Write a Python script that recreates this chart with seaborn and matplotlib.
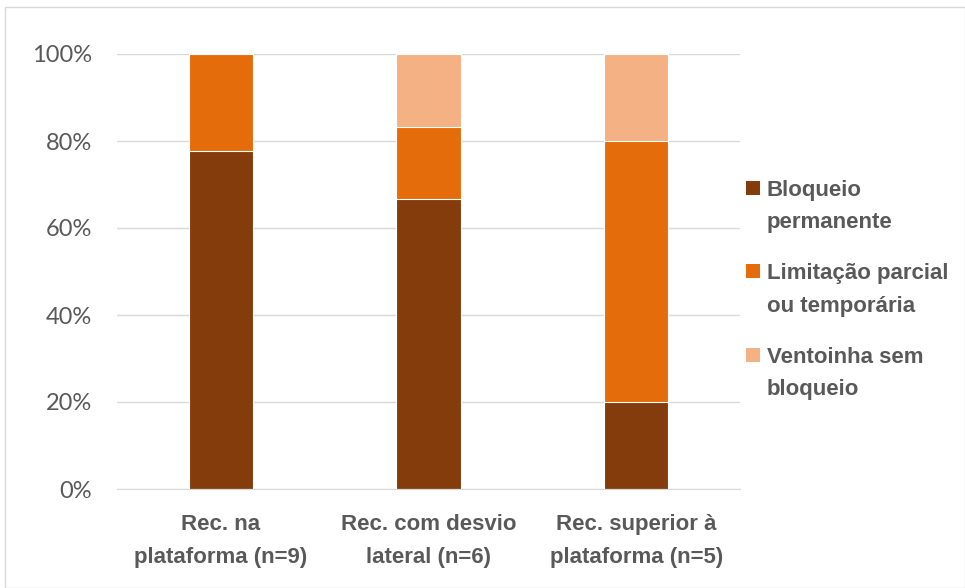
import numpy as np
import pandas as pd
import seaborn as sns
import matplotlib.pyplot as plt
from matplotlib.patches import Patch, Rectangle
from matplotlib.legend_handler import HandlerPatch

# Categories and shares (fraction of cases per group)
categories = ['Rec. na\nplataforma (n=9)', 'Rec. com desvio\nlateral (n=6)', 'Rec. superior à\nplataforma (n=5)']
series = ['Bloqueio\npermanente', 'Limitação parcial\nou temporária', 'Ventoinha sem\nbloqueio']
bloqueio = [7 / 9, 4 / 6, 1 / 5]
limitacao = [2 / 9, 1 / 6, 3 / 5]
ventoinha = [0.0, 1 / 6, 1 / 5]
colors = ['#843C0C', '#E46C0A', '#F4B183']

sns.set_style("white")
plt.rcParams['font.family'] = ['Lato', 'DejaVu Sans']
text_color = '#595959'
bold_font = ['Liberation Sans', 'DejaVu Sans']

df = pd.DataFrame({'cat': categories, 'b': bloqueio, 'l': limitacao, 'v': ventoinha})
df['c1'] = df['b']
df['c2'] = df['b'] + df['l']
df['c3'] = df['c2'] + df['v']

fig = plt.figure(figsize=(9.65, 5.88), dpi=100)
ax = fig.add_axes([117 / 965, 1 - 489 / 588, (740 - 117) / 965, (489 - 54) / 588])

# Draw stacked bars from top cumulative to bottom
for col, color in zip(['c3', 'c2', 'c1'], colors[::-1]):
    sns.barplot(data=df, x='cat', y=col, color=color, width=0.31, ax=ax,
                saturation=1, edgecolor='white', linewidth=0.8)

ax.set_ylim(0, 1)
ax.set_xlim(-0.5, 2.5)
ax.set_yticks(np.arange(0, 1.01, 0.2))
ax.set_yticklabels([f'{int(round(t * 100))}%' for t in np.arange(0, 1.01, 0.2)],
                   fontsize=17, color=text_color)
ax.set_xticklabels(categories, fontsize=16, fontweight='bold', color=text_color,
                   linespacing=1.72, family=bold_font)
ax.tick_params(axis='x', length=0, pad=18)
ax.tick_params(axis='y', length=0, pad=18)
ax.set_xlabel('')
ax.set_ylabel('')
ax.yaxis.grid(True, color='#D9D9D9', linewidth=1)
ax.set_axisbelow(True)
for s in ['top', 'right', 'left']:
    ax.spines[s].set_visible(False)
ax.spines['bottom'].set_color('#D9D9D9')


# legend square sits next to the first line of each two-line label
def top_square(legend, orig_handle, xdescent, ydescent, width, height, fontsize):
    sq = 0.63 * fontsize
    return Rectangle((-xdescent, -ydescent + height - sq + 0.3 * fontsize), sq, sq)


handles = [Patch(facecolor=c, edgecolor='none') for c in colors]
leg = fig.legend(handles, series, loc='center left', bbox_to_anchor=(746 / 965, 1 - 290 / 588),
                 frameon=False, prop={'family': bold_font, 'weight': 'bold', 'size': 16},
                 handlelength=0.63, handleheight=2.4, handletextpad=0.3, labelspacing=1.38,
                 borderpad=0, borderaxespad=0,
                 handler_map={Patch: HandlerPatch(patch_func=top_square)})
for t in leg.get_texts():
    t.set_color(text_color)
    t.set_linespacing(1.7)

# Light outer border of the chart area
fig.patches.append(Rectangle((5 / 965, 0), 1 - 5 / 965, 1 - 7 / 588, transform=fig.transFigure,
                             fill=False, edgecolor='#D9D9D9', linewidth=1))

fig.savefig('out.png', dpi=100)
